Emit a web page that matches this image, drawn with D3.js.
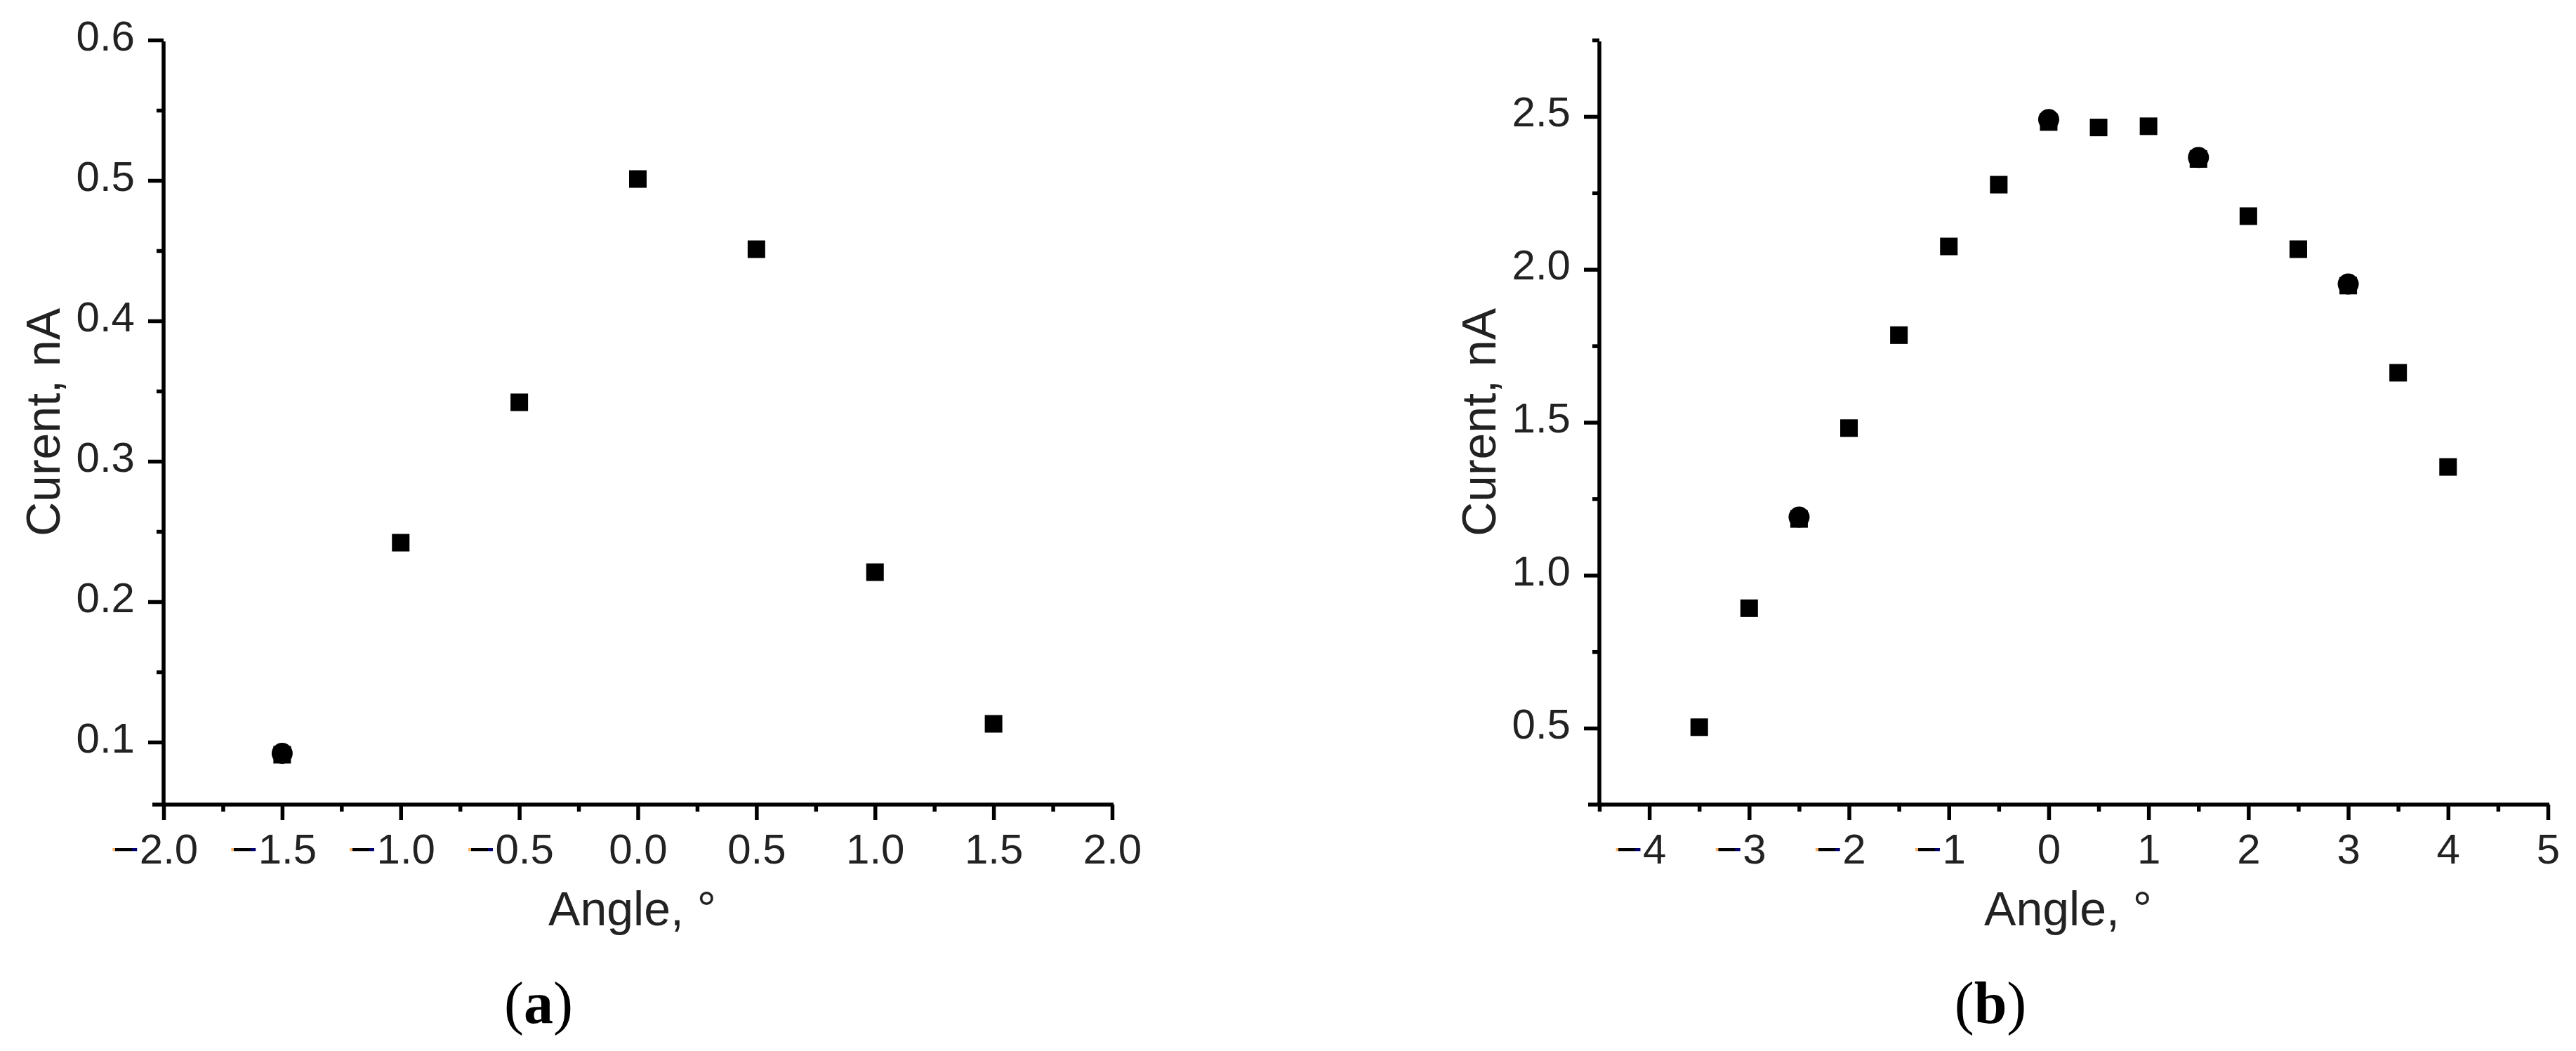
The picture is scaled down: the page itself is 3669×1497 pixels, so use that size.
<!DOCTYPE html>
<html>
<head>
<meta charset="utf-8">
<script src="https://cdn.jsdelivr.net/npm/d3@7"></script>
<style>
  html, body { margin: 0; padding: 0; background: #fff; }
  svg { display: block; }
</style>
</head>
<body>
<div id="chart"></div>
<script>
// --- data ---
const angleA = [-1.5, -1.0, -0.5, 0.0, 0.5, 1.0, 1.5];
const currentA = [0.091, 0.242, 0.342, 0.501, 0.451, 0.221, 0.113];
// points drawn as round markers (second series hidden behind squares)
const roundAngleA = [-1.5];
const roundCurrentA = [0.092];

const angleB = [-3.5, -3.0, -2.5, -2.0, -1.5, -1.0, -0.5, 0.0, 0.5, 1.0, 1.5, 2.0, 2.5, 3.0, 3.5, 4.0];
const currentB = [0.503, 0.892, 1.184, 1.481, 1.785, 2.075, 2.277, 2.482, 2.464, 2.468, 2.361, 2.174, 2.066, 1.947, 1.662, 1.354];
const roundAngleB = [-2.5, 0.0, 1.5, 3.0];
const roundCurrentB = [1.19, 2.49, 2.366, 1.952];

const xTicksA = [-2, -1.5, -1, -0.5, 0, 0.5, 1, 1.5, 2];
const yTicksA = [0.1, 0.2, 0.3, 0.4, 0.5, 0.6];
const xTicksB = [-4, -3, -2, -1, 0, 1, 2, 3, 4, 5];
const yTicksB = [0.5, 1.0, 1.5, 2.0, 2.5];

const width = 3669, height = 1497;
const sans = '"Liberation Sans", Arial, sans-serif';
const serif = '"Liberation Serif", "Times New Roman", serif';
const txtColor = '#222';

const svg = d3.select('#chart').append('svg')
  .attr('width', width).attr('height', height);
svg.append('rect').attr('width', width).attr('height', height).attr('fill', '#fff');

// gradient imitating the coloured fringes on the minus signs
const grad = svg.append('defs').append('linearGradient').attr('id', 'minusGrad');
[[0, '#ffb060'], [0.17, '#ffb060'], [0.18, '#000'], [0.74, '#000'], [0.75, '#000070'], [1, '#000070']]
  .forEach(([o, c]) => grad.append('stop').attr('offset', o).attr('stop-color', c));

function drawPanel(p) {
  const x = d3.scaleLinear().domain(p.xDomain).range([p.left, p.right]);
  const y = d3.scaleLinear().domain(p.yDomain).range([p.bottom, p.top]);
  const g = svg.append('g');

  // minor ticks
  g.append('g').attr('transform', `translate(0,${p.bottom})`)
    .call(d3.axisBottom(x).tickValues(p.xMinor).tickSize(10).tickFormat('').tickSizeOuter(0))
    .call(a => a.select('.domain').remove())
    .selectAll('line').attr('stroke', '#000').attr('stroke-width', 5.5);
  g.append('g').attr('transform', `translate(${p.left},0)`)
    .call(d3.axisLeft(y).tickValues(p.yMinor).tickSize(10).tickFormat('').tickSizeOuter(0))
    .call(a => a.select('.domain').remove())
    .selectAll('line').attr('stroke', '#000').attr('stroke-width', 5.5);

  // major ticks + labels
  const gx = g.append('g').attr('transform', `translate(0,${p.bottom})`)
    .call(d3.axisBottom(x).tickValues(p.xTicks).tickSize(22).tickFormat(d3.format(p.xFmt)).tickSizeOuter(0));
  gx.select('.domain').remove();
  gx.selectAll('line').attr('stroke', '#000').attr('stroke-width', 5.5);
  gx.selectAll('text')
    .attr('y', 84).attr('dy', 0)
    .style('font-family', sans).style('font-size', '60px').attr('fill', txtColor);

  // negative labels: digits a little right of the tick, minus hanging to the left
  gx.selectAll('.tick').each(function (d) {
    if (d >= 0) return;
    const t = d3.select(this).select('text');
    t.text(d3.format(p.xFmt)(Math.abs(d))).attr('x', 7);
    const w = t.node().getComputedTextLength();
    d3.select(this).append('text')
      .attr('x', 7 - w / 2).attr('y', 84)
      .attr('text-anchor', 'end')
      .attr('textLength', 42).attr('lengthAdjust', 'spacingAndGlyphs')
      .style('font-family', sans).style('font-size', '60px')
      .attr('fill', 'url(#minusGrad)')
      .text('\u2212');
  });

  const gy = g.append('g').attr('transform', `translate(${p.left},0)`)
    .call(d3.axisLeft(y).tickValues(p.yTicks).tickSize(22).tickFormat(d3.format('.1f')).tickSizeOuter(0));
  gy.select('.domain').remove();
  gy.selectAll('line').attr('stroke', '#000').attr('stroke-width', 5.5);
  gy.selectAll('text')
    .attr('x', -41).attr('dy', 0).attr('y', 14)
    .style('font-family', sans).style('font-size', '60px').attr('fill', txtColor);

  // axis lines
  g.append('line')
    .attr('x1', p.left - 16).attr('x2', x(p.xDomain[1]) + 2)
    .attr('y1', p.bottom).attr('y2', p.bottom)
    .attr('stroke', '#000').attr('stroke-width', 5.5);
  g.append('line')
    .attr('x1', p.left).attr('x2', p.left)
    .attr('y1', y(p.yDomain[1]) + 2).attr('y2', p.bottom)
    .attr('stroke', '#000').attr('stroke-width', 5.5);

  // axis titles
  g.append('text')
    .attr('x', (p.left + p.right) / 2 - 8).attr('y', p.bottom + 172)
    .attr('text-anchor', 'middle')
    .style('font-family', sans).style('font-size', '68px').attr('fill', txtColor)
    .text('Angle, °');
  g.append('text')
    .attr('transform', `translate(${p.left - 148},${(p.top + p.bottom) / 2}) rotate(-90)`)
    .attr('text-anchor', 'middle')
    .style('font-family', sans).style('font-size', '68px').attr('fill', txtColor)
    .text('Curent, nA');

  // round markers behind the squares
  g.append('g').selectAll('circle')
    .data(p.roundX.map((v, i) => ({ x: v, y: p.roundY[i] })))
    .join('circle')
    .attr('cx', d => x(d.x)).attr('cy', d => y(d.y))
    .attr('r', 15).attr('fill', '#000');

  // square markers
  const s = 25;
  g.append('g').selectAll('rect')
    .data(p.xs.map((v, i) => ({ x: v, y: p.ys[i] })))
    .join('rect')
    .attr('x', d => x(d.x) - s / 2).attr('y', d => y(d.y) - s / 2)
    .attr('width', s).attr('height', s).attr('fill', '#000');

  // panel caption
  const cap = svg.append('text')
    .attr('x', p.capX).attr('y', 1457)
    .attr('text-anchor', 'middle')
    .style('font-family', serif).style('font-size', '84px').attr('fill', '#000');
  cap.append('tspan').text('(');
  cap.append('tspan').style('font-weight', 'bold').text(p.cap);
  cap.append('tspan').text(')');
}

drawPanel({
  left: 233, right: 1584, top: 57, bottom: 1146,
  xDomain: [-2, 2], yDomain: [0.0555, 0.6],
  xTicks: xTicksA, yTicks: yTicksA,
  xMinor: d3.range(-1.75, 2, 0.5), yMinor: d3.range(0.15, 0.6, 0.1),
  xFmt: '.1f',
  xs: angleA, ys: currentA, roundX: roundAngleA, roundY: roundCurrentA,
  capX: 767, cap: 'a'
});

drawPanel({
  left: 2278, right: 3629, top: 57, bottom: 1146,
  xDomain: [-4.5, 5], yDomain: [0.25, 2.75],
  xTicks: xTicksB, yTicks: yTicksB,
  xMinor: d3.range(-4.5, 5, 1), yMinor: d3.range(0.75, 2.8, 0.5),
  xFmt: 'd',
  xs: angleB, ys: currentB, roundX: roundAngleB, roundY: roundCurrentB,
  capX: 2835, cap: 'b'
});
</script>
</body>
</html>
